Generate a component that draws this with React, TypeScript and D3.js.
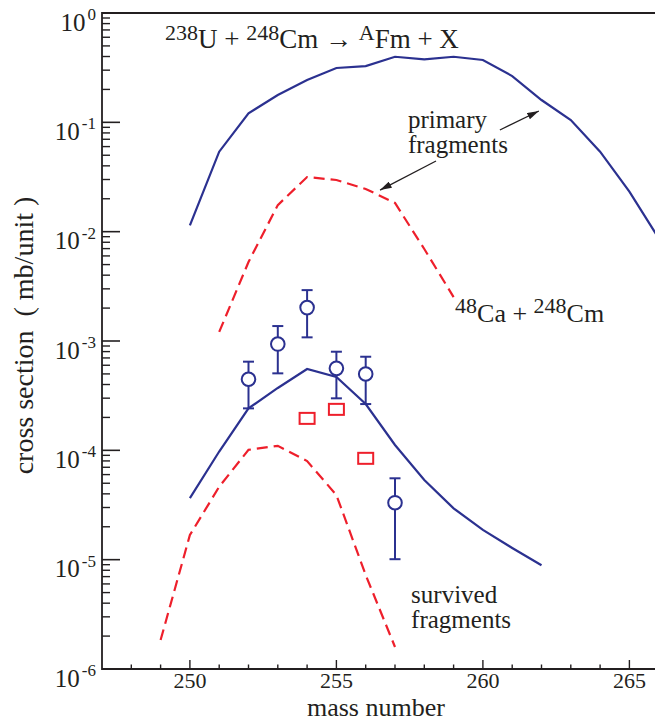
import React, { useRef, useEffect } from 'react';
import * as d3 from 'd3';

// primary fragments, 238U + 248Cm
const uMassPrimary = [250, 251, 252, 253, 254, 255, 256, 257, 258, 259, 260, 261, 262, 263, 264, 265, 266];
const uPrimary = [0.0114, 0.0539, 0.121, 0.178, 0.244, 0.314, 0.327, 0.398, 0.377, 0.398, 0.372, 0.265, 0.16, 0.105, 0.0539, 0.0232, 0.0087];

// primary fragments, 48Ca + 248Cm
const caMassPrimary = [251, 252, 253, 254, 255, 256, 257, 258, 259];
const caPrimary = [1.21e-3, 5.28e-3, 1.75e-2, 3.16e-2, 2.97e-2, 2.46e-2, 1.83e-2, 6.94e-3, 2.52e-3];

// survived fragments
const uMassSurvived = [250, 251, 252, 253, 254, 255, 256, 257, 258, 259, 260, 261, 262];
const uSurvived = [3.66e-5, 9.75e-5, 2.42e-4, 3.72e-4, 5.54e-4, 4.69e-4, 2.65e-4, 1.12e-4, 5.36e-5, 2.95e-5, 1.87e-5, 1.28e-5, 8.9e-6];

const caMassSurvived = [249, 250, 251, 252, 253, 254, 255, 256, 257];
const caSurvived = [1.84e-6, 1.68e-5, 4.65e-5, 1.01e-4, 1.1e-4, 7.98e-5, 3.9e-5, 7.24e-6, 1.59e-6];

// experimental points (circles) with error bars
const expMass = [252, 253, 254, 255, 256, 257];
const expValue = [4.47e-4, 9.38e-4, 2.02e-3, 5.62e-4, 4.99e-4, 3.32e-5];
const expHigh = [6.47e-4, 1.37e-3, 2.92e-3, 7.98e-4, 7.18e-4, 5.55e-5];
const expLow = [2.42e-4, 5.06e-4, 1.08e-3, 2.99e-4, 2.65e-4, 1.01e-5];

// squares
const sqMass = [254, 255, 256];
const sqValue = [1.96e-4, 2.37e-4, 8.45e-5];

const xTicks = [250, 255, 260, 265];
const yExponents = [0, -1, -2, -3, -4, -5, -6];

const BLUE = '#2b3190';
const RED = '#ee1f2b';
const INK = '#231f20';
const FONT = '"Liberation Serif", "Times New Roman", serif';

const App = () => {
  const svgRef = useRef<SVGSVGElement>(null);
  const width = 655;
  const height = 722;

  useEffect(() => {
    const svg = d3.select(svgRef.current);
    svg.selectAll('*').remove();

    const left = 102, top = 13, bottom = 669;
    const x = d3.scaleLinear().domain([247, 266]).range([left, 658.7]);
    const y = d3.scaleLog().domain([1e-6, 1]).range([bottom, top]);

    const g = svg.append('g');

    const line = (xs: number[], ys: number[]) =>
      d3.line<number>()
        .x((d, i) => x(xs[i]))
        .y(d => y(d))(ys);

    // curves
    g.append('path').attr('d', line(uMassPrimary, uPrimary))
      .attr('fill', 'none').attr('stroke', BLUE).attr('stroke-width', 2.2);
    g.append('path').attr('d', line(caMassPrimary, caPrimary))
      .attr('fill', 'none').attr('stroke', RED).attr('stroke-width', 2.2)
      .attr('stroke-dasharray', '11,6');
    g.append('path').attr('d', line(uMassSurvived, uSurvived))
      .attr('fill', 'none').attr('stroke', BLUE).attr('stroke-width', 2.2);
    g.append('path').attr('d', line(caMassSurvived, caSurvived))
      .attr('fill', 'none').attr('stroke', RED).attr('stroke-width', 2.2)
      .attr('stroke-dasharray', '11,6');

    // error bars
    expMass.forEach((m, i) => {
      const cx = x(m);
      g.append('line').attr('x1', cx).attr('x2', cx)
        .attr('y1', y(expLow[i])).attr('y2', y(expHigh[i]))
        .attr('stroke', BLUE).attr('stroke-width', 2);
      [expLow[i], expHigh[i]].forEach(v => {
        g.append('line').attr('x1', cx - 5.5).attr('x2', cx + 5.5)
          .attr('y1', y(v)).attr('y2', y(v))
          .attr('stroke', BLUE).attr('stroke-width', 2);
      });
      g.append('circle').attr('cx', cx).attr('cy', y(expValue[i])).attr('r', 6.8)
        .attr('fill', 'white').attr('stroke', BLUE).attr('stroke-width', 2);
    });

    // squares
    sqMass.forEach((m, i) => {
      g.append('rect').attr('x', x(m) - 7.5).attr('y', y(sqValue[i]) - 5.5)
        .attr('width', 15).attr('height', 11)
        .attr('fill', 'none').attr('stroke', RED).attr('stroke-width', 2);
    });

    // frame
    g.append('path')
      .attr('d', `M${x(266) + 5},${top}H${left}V${bottom}H${x(266) + 5}`)
      .attr('fill', 'none').attr('stroke', INK).attr('stroke-width', 1.8);

    // x ticks
    d3.range(248, 266).forEach(m => {
      const major = m % 5 === 0;
      g.append('line').attr('x1', x(m)).attr('x2', x(m))
        .attr('y1', bottom).attr('y2', bottom - (major ? 9 : 4.5))
        .attr('stroke', INK).attr('stroke-width', 1.4);
    });
    xTicks.forEach(t => {
      g.append('text').attr('x', x(t)).attr('y', 688)
        .attr('text-anchor', 'middle').attr('font-size', 22)
        .attr('font-family', FONT).attr('fill', INK).text(t);
    });

    // y ticks
    yExponents.forEach(e => {
      const base = Math.pow(10, e);
      g.append('line').attr('x1', left).attr('x2', left + 18)
        .attr('y1', y(base)).attr('y2', y(base))
        .attr('stroke', INK).attr('stroke-width', 1.6);
      if (e < 0) {
        d3.range(2, 10).forEach(k => {
          const v = base * k;
          g.append('line').attr('x1', left).attr('x2', left + 8)
            .attr('y1', y(v)).attr('y2', y(v))
            .attr('stroke', INK).attr('stroke-width', 1.4);
        });
      }
      const t = g.append('text').attr('x', 96).attr('y', y(base) + 17.5)
        .attr('text-anchor', 'end').attr('font-family', FONT).attr('fill', INK);
      t.append('tspan').attr('font-size', 25).text('10');
      t.append('tspan').attr('font-size', 17).attr('dx', 2).attr('dy', -10.5)
        .text(e === 0 ? '0' : `-${-e}`);
    });

    // axis titles
    g.append('text').attr('x', x(256.35)).attr('y', 716)
      .attr('text-anchor', 'middle').attr('font-size', 26)
      .attr('font-family', FONT).attr('fill', INK).text('mass number');
    g.append('text')
      .attr('transform', `translate(33,${y(Math.pow(10, -2.95))}) rotate(-90)`)
      .attr('text-anchor', 'middle').attr('font-size', 28)
      .attr('font-family', FONT).attr('fill', INK)
      .text('cross section\u00a0\u00a0( mb/unit )');

    // reaction label
    const title = g.append('text').attr('x', x(249.15)).attr('y', y(0.479))
      .attr('font-family', FONT).attr('fill', INK).attr('font-size', 27);
    title.append('tspan').attr('font-size', 22).attr('dy', -8).text('238');
    title.append('tspan').attr('dy', 8).text('U + ');
    title.append('tspan').attr('font-size', 22).attr('dy', -8).text('248');
    title.append('tspan').attr('dy', 8).text('Cm \u2192 ');
    title.append('tspan').attr('font-size', 22).attr('dy', -8).text('A');
    title.append('tspan').attr('dy', 8).text('Fm + X');

    const ca = g.append('text').attr('x', x(259.05)).attr('y', y(1.49e-3))
      .attr('font-family', FONT).attr('fill', INK).attr('font-size', 26);
    ca.append('tspan').attr('font-size', 22).attr('dy', -9).text('48');
    ca.append('tspan').attr('dy', 9).text('Ca + ');
    ca.append('tspan').attr('font-size', 22).attr('dy', -9).text('248');
    ca.append('tspan').attr('dy', 9).text('Cm');

    // two-line labels as one text with tspans
    const twoLines = (mx: number, v1: number, v2: number, a: string, b: string) => {
      const t = g.append('text').attr('font-size', 25)
        .attr('font-family', FONT).attr('fill', INK);
      t.append('tspan').attr('x', x(mx)).attr('y', y(v1)).text(a);
      t.append('tspan').attr('x', x(mx)).attr('y', y(v2)).text(b);
    };
    twoLines(257.44, 0.0879, 0.0521, 'primary', 'fragments');
    twoLines(257.55, 4.0e-6, 2.36e-6, 'survived', 'fragments');

    // arrows
    svg.append('defs').append('marker')
      .attr('id', 'head').attr('viewBox', '0 0 10 6')
      .attr('refX', 10).attr('refY', 3)
      .attr('markerWidth', 12).attr('markerHeight', 7)
      .attr('markerUnits', 'userSpaceOnUse')
      .attr('orient', 'auto')
      .append('path').attr('d', 'M0,0L10,3L0,6Z').attr('fill', INK);

    [[260.58, 0.0851, 261.91, 0.127], [258.4, 0.0443, 256.49, 0.024]].forEach(([m1, v1, m2, v2]) => {
      g.append('line').attr('x1', x(m1)).attr('y1', y(v1))
        .attr('x2', x(m2)).attr('y2', y(v2))
        .attr('stroke', INK).attr('stroke-width', 1.3)
        .attr('marker-end', 'url(#head)');
    });
  }, []);

  return (
    <svg
      ref={svgRef}
      width={width}
      height={height}
      style={{ position: 'absolute', left: 0, top: 0, background: 'white' }}
    />
  );
};

export default App;
